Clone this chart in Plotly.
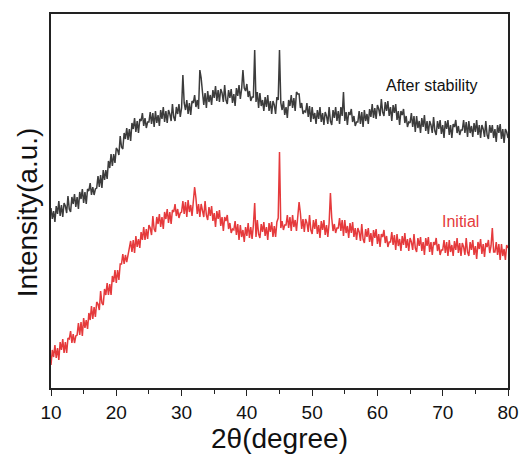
import plotly.graph_objects as go

# 2-theta sampling start/step (degrees)
theta_start = 10.0
theta_step = 0.2

# "After stability" pattern (a.u.) at 0.2 deg steps from 10 to 80
after_stability = [
    180, 169, 177, 166, 182,  174, 187, 172, 183, 171,  185, 182, 175, 192, 179,
    176, 191, 184, 194, 181,  191, 179, 196, 189, 199,  185, 196, 184, 199, 197,
    205, 193, 201, 193, 199,  200, 212, 201, 213, 200,  218, 208, 218, 209, 227,
    220, 234, 222, 234, 225,  240, 238, 233, 252, 241,  239, 255, 249, 260, 248,
    259, 247, 265, 259, 270,  256, 267, 255, 269, 267,  275, 262, 270, 260, 266,
    266, 276, 264, 275, 261,  277, 265, 273, 262, 278,  269, 281, 266, 277, 265,
    278, 274, 267, 284, 271,  267, 281, 274, 284, 271,  280, 313, 285, 278, 288,
    274, 285, 273, 287, 285,  293, 281, 288, 279, 318,  310, 296, 283, 295, 280,
    297, 286, 293, 283, 298,  290, 302, 287, 298, 286,  299, 295, 286, 303, 288,
    284, 298, 290, 299, 285,  294, 282, 300, 292, 303,  289, 299, 318, 300, 297,
    304, 291, 297, 287, 291,  291, 338, 286, 296, 280,  295, 282, 288, 277, 291,
    281, 293, 277, 287, 274,  287, 283, 274, 291, 288,  338, 285, 278, 287, 273,
    281, 270, 288, 282, 293,  280, 290, 277, 296, 294,  294, 280, 285, 274, 277,
    276, 285, 271, 282, 266,  281, 269, 275, 264, 278,  269, 281, 266, 275, 263,
    276, 272, 264, 281, 267,  263, 278, 270, 281, 267,  277, 264, 281, 272, 296,
    267, 276, 263, 276, 273,  279, 266, 272, 262, 266,  266, 277, 264, 276, 261,
    278, 267, 274, 264, 279,  271, 284, 270, 280, 269,  283, 279, 272, 289, 276,
    272, 286, 277, 287, 272,  281, 267, 283, 275, 284,  268, 277, 263, 277, 273,
    279, 265, 272, 261, 266,  265, 275, 261, 272, 256,  272, 260, 267, 255, 270,
    261, 273, 257, 267, 254,  267, 263, 255, 271, 257,  253, 267, 259, 268, 254,
    263, 250, 267, 259, 268,  253, 263, 250, 264, 261,  268, 255, 262, 253, 258,
    258, 268, 255, 266, 251,  267, 255, 262, 251, 265,  256, 268, 253, 263, 250,
    263, 259, 251, 267, 253,  249, 263, 255, 263, 250,  259, 246, 263, 255, 264,
    249, 259, 245, 259, 256,  250,
]

# "Initial" pattern (a.u.), same sampling
initial = [
    23, 38, 31, 43, 30,  40, 28, 46, 38, 49,  35, 46, 35, 50, 49,
    57, 45, 54, 45, 52,  53, 65, 53, 66, 52,  70, 60, 68, 59, 75,
    68, 82, 69, 81, 71,  86, 84, 78, 97, 85,  83, 99, 93, 105, 93,
    104, 93, 112, 106, 118,  105, 118, 108, 124, 124,  134, 124, 133, 126, 133,
    136, 147, 136, 148, 135,  152, 141, 149, 140, 156,  148, 161, 148, 159, 149,
    163, 160, 153, 172, 159,  156, 171, 164, 174, 161,  171, 159, 176, 169, 179,
    165, 176, 164, 178, 176,  184, 172, 179, 170, 175,  176, 187, 174, 186, 171,
    188, 176, 183, 172, 187,  201, 190, 174, 184, 171,  184, 179, 171, 187, 173,
    168, 181, 172, 182, 167,  175, 161, 177, 169, 178,  162, 171, 157, 171, 167,
    173, 159, 165, 155, 159,  158, 167, 153, 164, 148,  163, 151, 158, 146, 161,
    152, 165, 150, 161, 149,  163, 185, 151, 168, 154,  150, 164, 156, 166, 152,
    161, 148, 165, 156, 166,  151, 162, 151, 166, 170,  236, 160, 167, 158, 163,
    163, 173, 160, 171, 157,  173, 161, 168, 157, 172,  186, 175, 159, 169, 156,
    169, 165, 156, 173, 158,  154, 168, 159, 169, 154,  163, 150, 167, 158, 168,
    153, 163, 151, 165, 195,  170, 157, 164, 155, 160,  160, 170, 157, 168, 152,
    168, 155, 162, 150, 165,  155, 166, 151, 160, 148,  160, 156, 147, 164, 149,
    145, 159, 151, 160, 146,  155, 142, 158, 150, 159,  144, 154, 141, 154, 151,
    158, 145, 152, 141, 146,  146, 156, 143, 153, 138,  154, 142, 149, 137, 152,
    143, 155, 140, 149, 137,  150, 146, 138, 154, 140,  136, 150, 142, 151, 137,
    146, 133, 150, 142, 151,  136, 146, 133, 146, 143,  150, 137, 144, 133, 138,
    138, 148, 135, 146, 132,  148, 136, 143, 132, 147,  138, 150, 135, 145, 132,
    145, 141, 133, 150, 136,  132, 146, 138, 148, 133,  142, 129, 146, 139, 149,
    134, 144, 131, 145, 141,  148, 135, 142, 160, 136,  136, 146, 133, 144, 128,
    144, 132, 139, 128, 143,  140,
]

assert len(after_stability) == 351, len(after_stability)
assert len(initial) == 351, len(initial)

theta_after = [theta_start + theta_step * i for i in range(len(after_stability))]
theta_init = [theta_start + theta_step * i for i in range(len(initial))]

x_ticks = [10, 20, 30, 40, 50, 60, 70, 80]
labels = ["After stability", "Initial"]
colors = ["#3c3c3c", "#e53a3c"]

FONT = "Liberation Sans, Arial, sans-serif"

fig = go.Figure()
fig.add_trace(go.Scatter(x=theta_after, y=after_stability, mode="lines",
                         line=dict(color=colors[0], width=1.5), name=labels[0],
                         showlegend=False))
fig.add_trace(go.Scatter(x=theta_init, y=initial, mode="lines",
                         line=dict(color=colors[1], width=1.5), name=labels[1],
                         showlegend=False))

fig.add_annotation(x=68.3, y=303, xref="x", yref="y", text=labels[0],
                   showarrow=False, font=dict(family=FONT, size=16, color="#111111"))
fig.add_annotation(x=72.8, y=167, xref="x", yref="y", text=labels[1],
                   showarrow=False, font=dict(family=FONT, size=16, color=colors[1]))
fig.add_annotation(x=-0.0525, y=0.47, xref="paper", yref="paper", text="Intensity(a.u.)",
                   textangle=-90, showarrow=False, xanchor="center", yanchor="middle",
                   font=dict(family=FONT, size=28, color="#111111"))

fig.update_layout(
    width=531, height=455,
    margin=dict(l=51, r=23, t=14, b=67),
    paper_bgcolor="white", plot_bgcolor="white",
    font=dict(family=FONT, color="#111111"),
)
fig.update_xaxes(
    range=[10, 80], tickvals=x_ticks, ticktext=[str(t) for t in x_ticks],
    ticks="outside", ticklen=6, tickwidth=1.2, tickcolor="#222222",
    minor=dict(dtick=5, ticks="outside", ticklen=4, tickwidth=1.2, tickcolor="#222222"),
    showline=True, mirror=True, linecolor="#222222", linewidth=1.5,
    showgrid=False, zeroline=False, automargin=False,
    tickfont=dict(family=FONT, size=19, color="#111111"),
    title=dict(text="2θ(degree)", font=dict(family=FONT, size=28, color="#111111"), standoff=4),
)
fig.update_yaxes(
    range=[0, 374], showticklabels=False, ticks="",
    showline=True, mirror=True, linecolor="#222222", linewidth=1.5,
    showgrid=False, zeroline=False, automargin=False,
)

fig.write_html("out.html")
